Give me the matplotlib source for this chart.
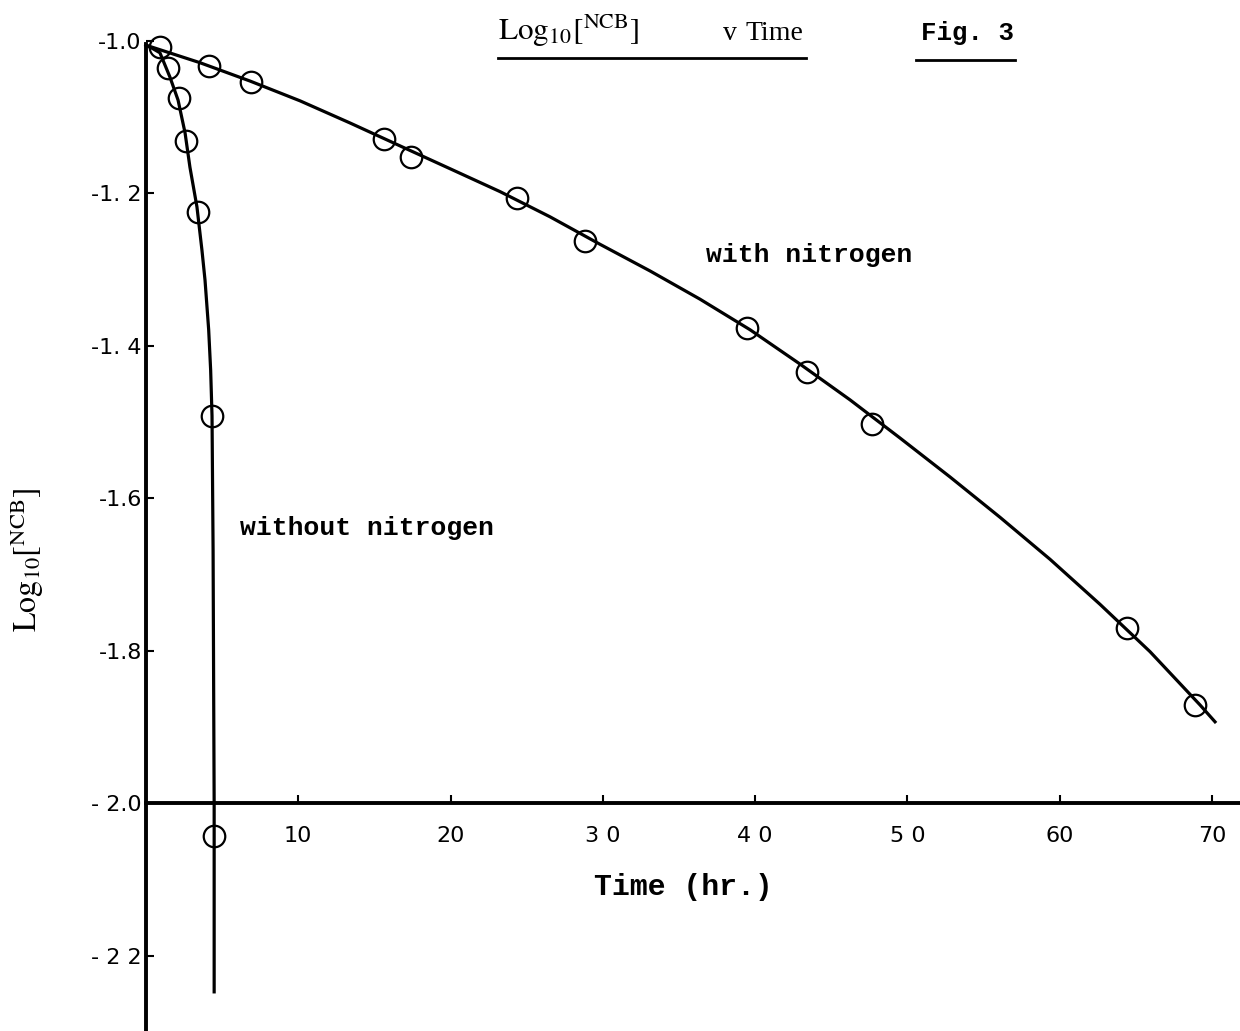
import matplotlib.pyplot as plt
from matplotlib.lines import Line2D

# measured points, log10[NCB] against time (hr.)
with_n2_time = [0.92, 4.14, 6.90, 15.63, 17.40, 24.36, 28.83, 39.46, 43.40, 47.67, 64.41, 68.88]
with_n2_log = [-1.008, -1.033, -1.054, -1.129, -1.153, -1.206, -1.263, -1.377, -1.434, -1.502, -1.770, -1.871]

without_n2_time = [1.45, 2.17, 2.63, 3.42, 4.34, 4.48]
without_n2_log = [-1.036, -1.075, -1.132, -1.225, -1.492, -2.043]

# hand drawn curves
with_curve_time = [0.0, 3.55, 6.83, 10.12, 13.40, 16.68, 19.97, 23.25, 26.53, 29.81, 33.10, 36.38,
                   39.66, 42.94, 46.23, 49.51, 52.79, 56.08, 59.36, 62.64, 65.92, 69.21, 70.19]
with_curve_log = [-1.006, -1.029, -1.053, -1.079, -1.108, -1.138, -1.168, -1.198, -1.231, -1.267, -1.302, -1.339,
                  -1.379, -1.424, -1.471, -1.521, -1.572, -1.625, -1.680, -1.739, -1.801, -1.871, -1.893]

without_curve_time = [0.0, 0.40, 0.92, 1.58, 2.11, 2.57, 2.89, 3.35, 3.68, 3.88, 4.12, 4.25, 4.34, 4.41, 4.45, 4.48, 4.48]
without_curve_log = [-1.006, -1.010, -1.016, -1.048, -1.078, -1.121, -1.166, -1.218, -1.275, -1.314, -1.379,
                     -1.432, -1.492, -1.668, -1.864, -2.000, -2.247]

y_ticks = [-1.0, -1.2, -1.4, -1.6, -1.8, -2.0, -2.2]
y_tick_labels = ["-1.0", "-1. 2", "-1. 4", "-1.6", "-1.8", "- 2.0", "- 2 2"]
x_ticks = [10, 20, 30, 40, 50, 60, 70]
x_tick_labels = ["10", "20", "3 0", "4 0", "5 0", "60", "70"]

W, H = 1240, 1031
plt.rcParams['mathtext.fontset'] = 'stix'

fig = plt.figure(figsize=(W / 100, H / 100), dpi=100)
ax = fig.add_axes([0, 0, 1, 1])
ax.set_xlim(-9.58, 71.83)
ax.set_ylim(-2.2983, -0.9468)

ax.plot(with_curve_time, with_curve_log, '-k', lw=2.3)
ax.plot(without_curve_time, without_curve_log, '-k', lw=2.3)
ax.plot(with_n2_time, with_n2_log, 'o', mfc='none', mec='k', ms=15.5, mew=1.6)
ax.plot(without_n2_time, without_n2_log, 'o', mfc='none', mec='k', ms=15.5, mew=1.6)

for s in ['top', 'right']:
    ax.spines[s].set_visible(False)
ax.spines['left'].set_position(('data', 0))
ax.spines['left'].set_bounds(-2.2983, -1.005)
ax.spines['bottom'].set_position(('data', -2.0))
ax.spines['bottom'].set_bounds(0, 71.83)
ax.spines['left'].set_linewidth(2.8)
ax.spines['bottom'].set_linewidth(2.8)

ax.set_xticks(x_ticks, x_tick_labels)
ax.set_yticks(y_ticks, y_tick_labels)
ax.tick_params(axis='x', direction='in', length=6, width=1.5, pad=16, labelsize=16)
ax.tick_params(axis='y', direction='in', length=6, width=1.5, pad=3, labelsize=16)

ax.text(36.77, -1.281, "with nitrogen", family='Liberation Mono', fontsize=19,
        fontweight='bold', va='center', ha='left')
ax.text(6.18, -1.639, "without nitrogen", family='Liberation Mono', fontsize=19,
        fontweight='bold', va='center', ha='left')

fig.text(683 / W, 1 - 887 / H, "Time (hr.)", family='Liberation Mono', fontsize=21.5,
         fontweight='bold', ha='center', va='center')
fig.text(27 / W, 1 - 560 / H, r"$\mathrm{Log}_{10}[^{\mathrm{NCB}}]$", rotation=90,
         fontsize=23, ha='center', va='center')

# title and figure number, underlined
fig.text(498 / W, 1 - 40 / H, r"$\mathrm{Log}_{10}[^{\mathrm{NCB}}]$", fontsize=22.5,
         ha='left', va='baseline')
fig.text(723 / W, 1 - 40 / H, "v", family='Liberation Serif', fontsize=20,
         ha='left', va='baseline')
fig.text(745 / W, 1 - 40 / H, "Time", family='Liberation Serif', fontsize=20,
         ha='left', va='baseline')
fig.text(921 / W, 1 - 40 / H, "Fig. 3", family='Liberation Mono', fontsize=18.5,
         fontweight='bold', ha='left', va='baseline')
fig.add_artist(Line2D([498 / W, 806 / W], [1 - 58 / H] * 2, color='k', lw=2))
fig.add_artist(Line2D([916 / W, 1015 / W], [1 - 60 / H] * 2, color='k', lw=2))

fig.savefig('out.png', dpi=100)
